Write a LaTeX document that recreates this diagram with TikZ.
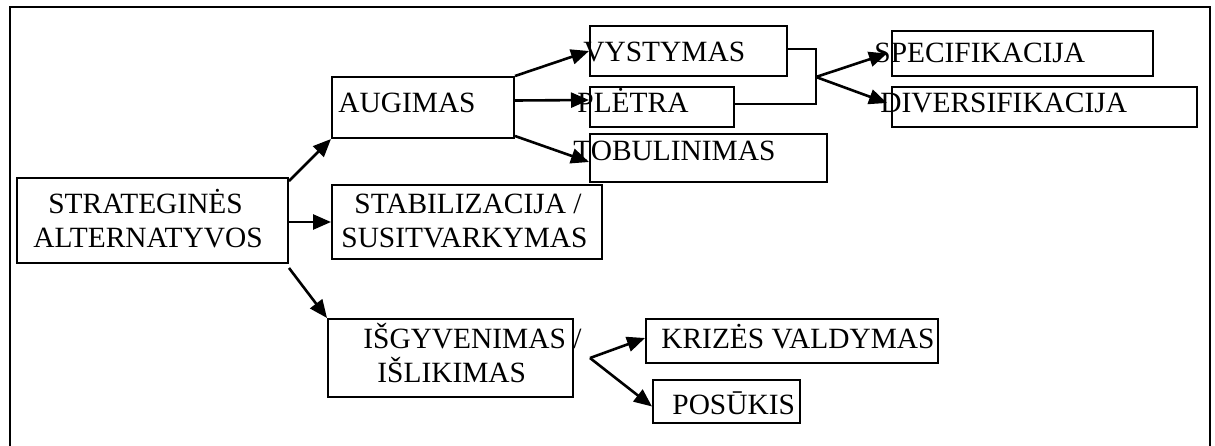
\documentclass[tikz,border=0pt]{standalone}
\usepackage{fontspec}
\setmainfont{Liberation Serif}
\usetikzlibrary{fit,arrows.meta}

\begin{document}
\begin{tikzpicture}[x=0.5pt,y=-0.5pt,
  box/.style={draw,line width=1pt,inner sep=0pt,fit={#1}},
  lbl/.style={anchor=base west,inner sep=0pt,font=\fontsize{14.7pt}{17pt}\selectfont},
  arr/.style={line width=1.3pt,-{Triangle[length=9pt,width=7.5pt]}},
  link/.style={line width=1pt}]
\useasboundingbox (0,0) rectangle (1215,445);
\fill[white] (0,0) rectangle (1215,445);

% outer frame, open at the bottom
\draw[line width=1pt] (10,446) -- (10,7) -- (1210,7) -- (1210,446);

% boxes
\node[box={(17,178) (288,263)}] (strat) {};
\node[box={(332,77) (514,138)}] (aug) {};
\node[box={(332,185) (602,259)}] (stab) {};
\node[box={(328,319) (573,397)}] (isg) {};
\node[box={(590,26) (787,76)}] (vys) {};
\node[box={(590,87) (734,127)}] (ple) {};
\node[box={(590,134) (827,182)}] (tob) {};
\node[box={(892,31) (1153,76)}] (spec) {};
\node[box={(892,87) (1197,127)}] (div) {};
\node[box={(646,319) (938,363)}] (krz) {};
\node[box={(653,380) (800,423)}] (pos) {};

% labels
\node[lbl] (t1a) at (48,213) {STRATEGINĖS};
\node[lbl] (t1b) at (33,247) {ALTERNATYVOS};
\node[lbl] (t2) at (338,112) {AUGIMAS};
\node[lbl] (t3a) at (354,213) {STABILIZACIJA /};
\node[lbl] (t3b) at (341,247) {SUSITVARKYMAS};
\node[lbl] (t4a) at (363,348) {IŠGYVENIMAS /};
\node[lbl] (t4b) at (377,382) {IŠLIKIMAS};
\node[lbl] (t5) at (583,61) {VYSTYMAS};
\node[lbl] (t6) at (577,112) {PLĖTRA};
\node[lbl] (t7) at (573,160) {TOBULINIMAS};
\node[lbl] (t8) at (874,62) {SPECIFIKACIJA};
\node[lbl] (t9) at (880,112) {DIVERSIFIKACIJA};
\node[lbl] (t10) at (661,348) {KRIZĖS VALDYMAS};
\node[lbl] (t11) at (672,414) {POSŪKIS};

% junction points
\coordinate (jd) at (816,77);
\coordinate (jk) at (590,358);

% connectors
\draw[arr] ([yshift=-2pt]strat.north east) -- (aug.south west);
\draw[arr] (strat.east |- stab.west) -- (stab.west);
\draw[arr] ([yshift=-2pt]strat.south east) -- (isg.north west);

\draw[arr] (aug.north east) -- (vys.west);
\draw[arr] ([yshift=3.5pt]aug.east) -- ([yshift=3.5pt]ple.west);
\draw[arr] ([yshift=1.5pt]aug.south east) -- ([yshift=-2pt]tob.west);

\draw[link] ([yshift=1pt]vys.east) -| (jd) |- ([yshift=1.5pt]ple.east);
\draw[arr] (jd) -- ([xshift=-2pt]spec.west);
\draw[arr] (jd) -- ([xshift=-2pt,yshift=2pt]div.west);

\draw[arr] (jk) -- ([yshift=1.5pt]krz.west);
\draw[arr] (jk) -- ([yshift=-2.5pt]pos.west);
\end{tikzpicture}
\end{document}
